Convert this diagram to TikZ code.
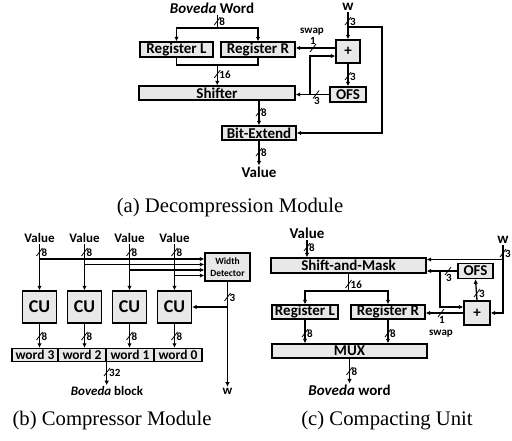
\documentclass[tikz,border=0pt]{standalone}
\usepackage{fontspec}
\setmainfont{Liberation Serif}
\setsansfont{Carlito}
\usetikzlibrary{arrows.meta,calc}
\tikzset{
  blk/.style={draw, line width=1.4pt, fill=black!9, inner sep=0pt,
    font=\sffamily\bfseries\fontsize{15}{15}\selectfont},
  wire/.style={line width=1.3pt},
  arr/.style={wire, -{Latex[length=4.5pt,width=4.5pt]}},
  busmark/.style={line width=0.8pt},
  buslbl/.style={font=\sffamily\bfseries\fontsize{11}{11}\selectfont, inner sep=0.5pt},
  lbl/.style={font=\sffamily\bfseries\fontsize{15}{15}\selectfont, inner sep=1pt},
  lblb/.style={font=\sffamily\bfseries\fontsize{13}{13}\selectfont, inner sep=1pt},
  capt/.style={font=\fontsize{20.7}{20.7}\selectfont, inner sep=0pt},
}
\newcommand{\vbus}[3]{\draw[busmark] (#1-3,#2+4) -- (#1+3,#2-4);
  \node[buslbl,anchor=west] at (#1+1.5,#2+1) {#3};}
\newcommand{\hbusb}[3]{\draw[busmark] (#1-3,#2+4) -- (#1+3,#2-4);
  \node[buslbl,anchor=north] at (#1+1,#2+2.5) {#3};}
\newcommand{\hbusa}[3]{\draw[busmark] (#1-3,#2+4) -- (#1+3,#2-4);
  \node[buslbl,anchor=south] at (#1,#2-3) {#3};}
\begin{document}
\begin{tikzpicture}[x=1pt,y=-1pt]
\useasboundingbox (0,0) rectangle (512,441);
% ================= (a) =================
\node[lbl] (bw) at (212,8) {\textit{Boveda} Word};
\node[blk, minimum width=73pt, minimum height=15pt] (rl) at (176.5,49.5) {Register L};
\node[blk, minimum width=74pt, minimum height=15pt] (rr) at (258,49.5) {Register R};
\node[blk, minimum width=24pt, minimum height=23pt] (pa) at (348,51.5) {+};
\node[blk, minimum width=156pt, minimum height=14pt] (sh) at (217,93) {Shifter};
\node[blk, minimum width=36pt, minimum height=15pt] (ofs) at (348,94.5) {OFS};
\node[blk, minimum width=74pt, minimum height=14pt] (be) at (259,133) {Bit-Extend};
\node[lbl] (val) at (259,172) {Value};
\node[lbl] (wa) at (348,7) {w};
\node[buslbl] (swa) at (312,32) {swap};
\coordinate (ja) at (217.25,28);
\draw[wire] (bw.south -| ja) -- (ja);
\draw[arr] (ja) -| (rl.north);
\draw[arr] (ja) -| (rr.north);
\vbus{217.25}{21}{8}
\coordinate (jb) at (217.25,65);
\draw[wire] (rl.south) |- (jb);
\draw[wire] (rr.south) |- (jb);
\draw[arr] (jb) -- (jb |- sh.north);
\vbus{217.25}{74}{16}
\draw[arr] (wa.south) -- (pa.north);
\vbus{348}{21}{3}
\coordinate (wb) at (348,27);
\coordinate (wc) at (382,27);
\draw[arr] (wb) -- (wc) |- (be.east);
\coordinate (sw) at ($(pa.west)+(0,-3.5)$);
\draw[arr] (sw) -- (sw -| rr.east);
\hbusa{313}{48}{1}
\draw[arr] (ofs.west) -- (ofs.west -| sh.east);
\hbusb{316}{94.5}{3}
\coordinate (fb) at (310,94.5);
\coordinate (pin) at ($(pa.west)+(0,4.5)$);
\draw[arr] (fb) |- (pin);
\draw[arr] (pa.south) -- (ofs.north);
\vbus{348}{76}{3}
\draw[arr] (sh.south -| be) -- (be.north);
\vbus{259}{112}{8}
\draw[arr] (be.south) -- (val.north);
\vbus{259}{152}{8}
\node[capt] (capa) at (230,208) {(a) Decompression Module};
% ================= (b) =================
\foreach \i/\x in {1/39.5,2/84.5,3/129.5,4/174.5}{
  \node[lblb] (v\i) at (\x,238) {Value};
  \node[blk, minimum width=34pt, minimum height=32pt,
        font=\sffamily\bfseries\fontsize{18}{18}\selectfont] (cu\i) at (\x,307) {CU};
  \draw[arr] (v\i.south) -- (cu\i.north);
  \vbus{\x}{252}{8}
}
\node[blk, minimum width=45pt, minimum height=28pt, align=center,
      font=\sffamily\bfseries\fontsize{9.5}{12}\selectfont] (wd) at (227.5,267) {Width\\Detector};
\foreach \i/\x/\y in {1/39.5/259,2/84.5/264.5,3/129.5/270,4/174.5/275.5}{
  \coordinate (h\i) at (\x,\y);
  \draw[arr] (h\i) -- (h\i -| wd.west);
}
\node[lblb] (wout) at (227.5,391) {w};
\draw[arr] (wd.south) -- (wout.north);
\vbus{227.5}{297}{3}
\coordinate (wbr) at (wd.south |- cu4.east);
\draw[arr] (wbr) -- (cu4.east);
\tikzset{wordbox/.style={blk, minimum height=13pt, font=\sffamily\bfseries\fontsize{13.5}{13.5}\selectfont}}
\node[wordbox, minimum width=46pt] (wd3) at (35,355) {word 3};
\node[wordbox, minimum width=48pt] (wd2) at (82,355) {word 2};
\node[wordbox, minimum width=48pt] (wd1) at (130,355) {word 1};
\node[wordbox, minimum width=48pt] (wd0) at (178,355) {word 0};
\foreach \i/\x in {1/39.5,2/84.5,3/129.5,4/174.5}{
  \draw[arr] (cu\i.south) -- (cu\i.south |- wd3.north);
  \vbus{\x}{336}{8}
}
\node[lblb] (bb) at (107,391) {\textit{Boveda} block};
\draw[arr] (wd2.south east) -- (wd2.south east |- bb.north);
\vbus{107}{372}{32}
\node[capt] (capb) at (112,421) {(b) Compressor Module};
% ================= (c) =================
\node[lbl] (vc) at (307,233) {Value};
\node[blk, minimum width=155pt, minimum height=15pt] (sm) at (348.5,265.5) {Shift-and-Mask};
\draw[arr] (vc.south) -- (vc.south |- sm.north);
\vbus{307}{247}{8}
\node[lbl] (wcc) at (503,240) {w};
\node[blk, minimum width=35pt, minimum height=15pt] (ofsc) at (475.5,271) {OFS};
\node[blk, minimum width=26pt, minimum height=24pt] (pc) at (477,313) {+};
\node[blk, minimum width=66pt, minimum height=14pt] (rlc) at (305,312) {Register L};
\node[blk, minimum width=74pt, minimum height=14pt] (rrc) at (388,312) {Register R};
\node[blk, minimum width=155pt, minimum height=14pt] (mux) at (349.5,351) {MUX};
\node[lbl] (bwc) at (349.5,390) {\textit{Boveda} word};
\draw[arr] (wcc.south) |- (pc.east);
\vbus{503}{253}{3}
\coordinate (wt) at (503,259.5);
\draw[arr] (wt) -- (wt -| sm.east);
\draw[arr] (ofsc.west) -- (ofsc.west -| sm.east);
\hbusb{448}{271}{3}
\coordinate (fbc) at (440,271);
\coordinate (pcin) at ($(pc.west)+(0,-6)$);
\draw[arr] (fbc) |- (pcin);
\draw[arr] (pc.north) -- (ofsc.south);
\vbus{477}{293}{3}
\draw[arr] (pc.west) -- (pc.west -| rrc.east);
\hbusb{441}{313}{1}
\node[buslbl] (swc) at (441,334) {swap};
\coordinate (jc) at (348.5,291);
\draw[wire] (sm.south -| jc) -- (jc);
\draw[arr] (jc) -| (rlc.north);
\draw[arr] (jc) -| (rrc.north);
\vbus{348.5}{284}{16}
\draw[arr] (rlc.south) -- (rlc.south |- mux.north);
\vbus{305}{333}{8}
\draw[arr] (rrc.south) -- (rrc.south |- mux.north);
\vbus{388}{333}{8}
\draw[arr] (mux.south) -- (bwc.north);
\vbus{349.5}{371}{8}
\node[capt] (capc) at (387,421) {(c) Compacting Unit};
\end{tikzpicture}
\end{document}
